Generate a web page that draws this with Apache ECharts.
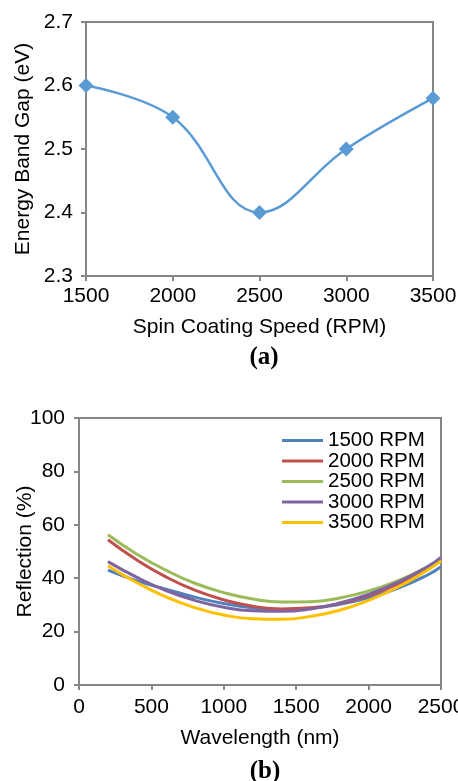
<!DOCTYPE html>
<html>
<head>
<meta charset="utf-8">
<script src="https://cdn.jsdelivr.net/npm/echarts@6/dist/echarts.min.js"></script>
<style>
  html, body { margin: 0; padding: 0; background: #fff; }
  #main { width: 458px; height: 781px; }
</style>
</head>
<body>
<div id="main"></div>
<script>
// (a) energy band gap vs spin speed
var speeds = [1500, 2000, 2500, 3000, 3500];
var bandGap = [2.60, 2.55, 2.40, 2.50, 2.58];

// (b) reflection spectra
var wavelengths = [200, 400, 600, 800, 1000, 1200, 1400, 1600, 1800, 2000, 2200, 2400, 2500];
var refl1500 = [43.0, 39.0, 35.9, 32.9, 30.5, 28.9, 28.3, 28.7, 30.2, 32.7, 36.2, 41.0, 44.3];
var refl2000 = [54.4, 46.8, 40.5, 35.5, 31.9, 29.5, 28.5, 28.9, 30.5, 33.5, 37.8, 43.5, 46.8];
var refl2500 = [56.3, 49.0, 43.0, 38.1, 34.6, 32.2, 31.1, 31.2, 32.6, 35.2, 39.0, 44.1, 47.0];
var refl3000 = [46.2, 40.3, 35.4, 31.7, 29.1, 27.8, 27.6, 28.5, 30.7, 34.0, 38.4, 44.1, 47.8];
var refl3500 = [44.7, 38.3, 33.0, 29.0, 26.2, 24.8, 24.6, 25.7, 28.0, 31.7, 36.6, 42.8, 46.4];
var seriesNames = ['1500 RPM', '2000 RPM', '2500 RPM', '3000 RPM', '3500 RPM'];
var seriesColors = ['#4F81BD', '#C0504D', '#9BBB59', '#8064A2', '#FFC000'];

var font = 'Liberation Sans, Arial, sans-serif';
var gray = '#868686';

function pairs(xs, ys) {
    return xs.map(function (x, i) { return [x, ys[i]]; });
}

function axisBase() {
    return {
        axisLine: { show: true, lineStyle: { color: gray, width: 2 } },
        axisTick: { show: true, length: 5, lineStyle: { color: gray, width: 2 } },
        splitLine: { show: false },
        axisLabel: { color: '#000', fontSize: 21, fontFamily: font,
                     formatter: function (v) { return String(v); } },
        nameTextStyle: { color: '#000', fontSize: 21, fontFamily: font },
        nameLocation: 'middle',
        nameMoveOverlap: false
    };
}

var reflData = [refl1500, refl2000, refl2500, refl3000, refl3500];
var reflSeries = reflData.map(function (vals, i) {
    return {
        name: seriesNames[i],
        type: 'line',
        xAxisIndex: 1,
        yAxisIndex: 1,
        smooth: true,
        showSymbol: false,
        symbol: 'none',
        lineStyle: { color: seriesColors[i], width: 3 },
        itemStyle: { color: seriesColors[i] },
        data: pairs(wavelengths, vals)
    };
});

var serif = 'Liberation Serif, Times New Roman, serif';
var myChart = echarts.init(document.getElementById('main'));
var option = {
    animation: false,
    title: [
        { text: '(a)', left: 259, top: 340, textAlign: 'center',
          textStyle: { fontFamily: serif, fontWeight: 'bold', fontSize: 25, color: '#000' } },
        { text: '(b)', left: 260, top: 754, textAlign: 'center',
          textStyle: { fontFamily: serif, fontWeight: 'bold', fontSize: 25, color: '#000' } }
    ],
    legend: {
        orient: 'vertical',
        left: 282,
        top: 430,
        padding: 0,
        icon: 'rect',
        itemWidth: 41,
        itemHeight: 3,
        itemGap: -0.5,
        data: seriesNames,
        textStyle: { color: '#000', fontSize: 20.5, fontFamily: font, lineHeight: 20 }
    },
    grid: [
        { left: 86, top: 22, width: 347, height: 254, show: true, borderColor: gray, borderWidth: 2,
          outerBoundsMode: 'none', containLabel: false },
        { left: 79, top: 418, width: 362, height: 267, show: true, borderColor: gray, borderWidth: 2,
          outerBoundsMode: 'none', containLabel: false }
    ],
    xAxis: [
        Object.assign(axisBase(), {
            gridIndex: 0, type: 'value', min: 1500, max: 3500, interval: 500,
            name: 'Spin Coating Speed (RPM)', nameGap: 41
        }),
        Object.assign(axisBase(), {
            gridIndex: 1, type: 'value', min: 0, max: 2500, interval: 500,
            name: 'Wavelength (nm)', nameGap: 43
        })
    ],
    yAxis: [
        Object.assign(axisBase(), {
            gridIndex: 0, type: 'value', min: 2.3, max: 2.7, interval: 0.1,
            name: 'Energy Band Gap (eV)', nameGap: 52
        }),
        Object.assign(axisBase(), {
            gridIndex: 1, type: 'value', min: 0, max: 100, interval: 20,
            name: 'Reflection (%)', nameGap: 43
        })
    ],
    series: [{
        name: 'Band Gap',
        type: 'line',
        xAxisIndex: 0,
        yAxisIndex: 0,
        smooth: 0.4,
        symbol: 'diamond',
        symbolSize: 15,
        lineStyle: { color: '#5B9BD5', width: 2.5 },
        itemStyle: { color: '#5B9BD5' },
        data: pairs(speeds, bandGap)
    }].concat(reflSeries)
};
option.xAxis[0].axisLabel.margin = 10;
option.xAxis[1].axisLabel.margin = 12;
option.yAxis[0].axisLabel.margin = 13;
option.yAxis[0].axisLabel.formatter = function (v) { return v.toFixed(1); };
option.yAxis[1].axisLabel.margin = 14;
myChart.setOption(option);
</script>
</body>
</html>
